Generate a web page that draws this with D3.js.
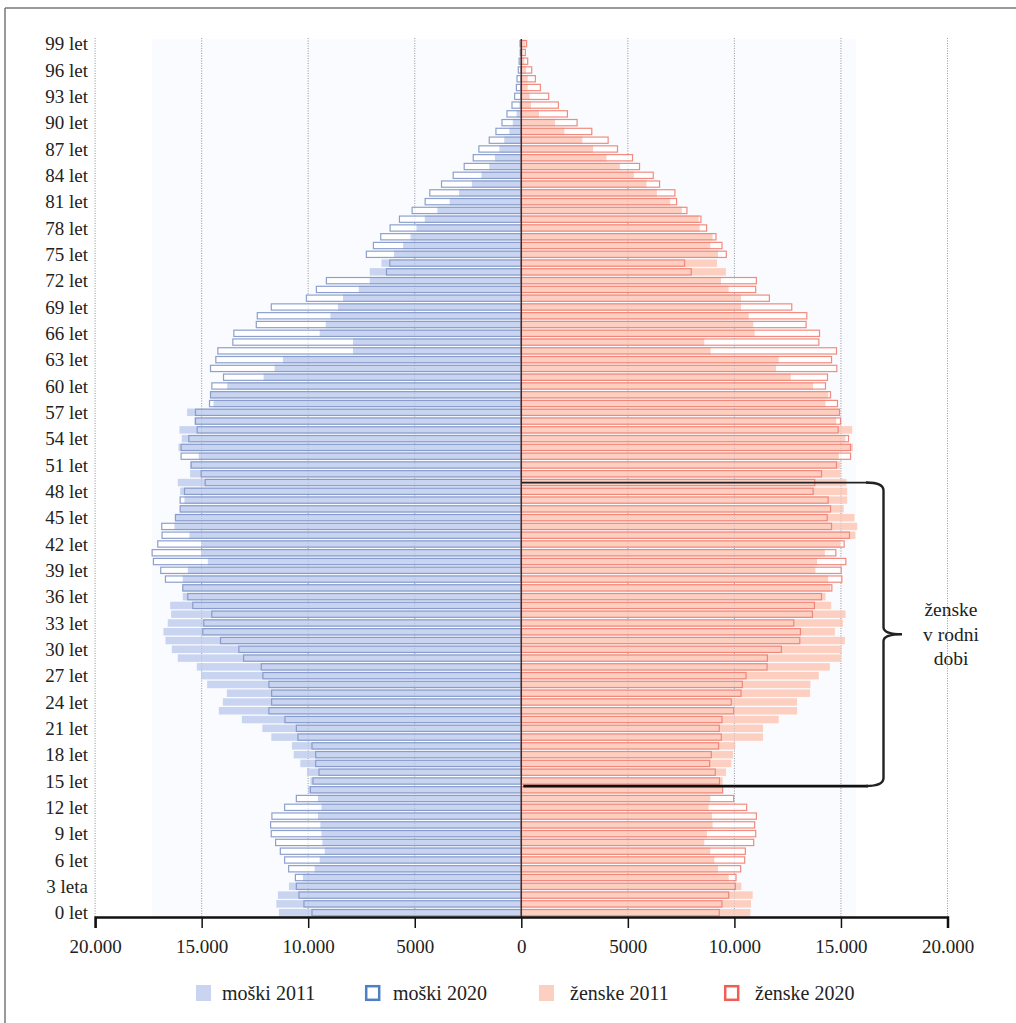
<!DOCTYPE html>
<html><head><meta charset="utf-8">
<script src="https://cdn.jsdelivr.net/npm/d3@7"></script>
<style>
html,body{margin:0;padding:0;background:#fff;}
svg{display:block;}
text{font-family:"Liberation Serif","DejaVu Serif",serif;fill:#222;}
</style></head><body>
<svg id="c" width="1016" height="1023"></svg>
<script>
// ages 0..99
const ages = d3.range(0, 100);
const male2011 = [11374,11496,11421,10904,10250,9696,9461,9226,9334,9381,9428,9541,9381,9541,10000,9898,10058,10368,10683,10763,11731,12154,13113,14194,14006,13818,14742,15023,15228,16121,16403,16699,16793,16591,16431,16478,15886,15900,15886,15651,14711,15023,15023,15571,16276,16230,16010,15806,16010,16121,15540,15540,15134,16088,15933,16041,15340,15680,14443,14584,13800,12093,11576,11186,7896,7896,9461,9179,8958,8601,8366,7628,7111,7111,6561,5970,5545,5200,4920,4530,3940,3360,2920,2320,1870,1500,1240,1030,800,560,400,220,90,60,50,40,30,20,15,10];
const male2020 = [9823,10199,10434,10556,10600,10918,11106,11308,11529,11733,11764,11703,11106,10556,9898,9776,9494,9649,9649,9823,10481,10556,11092,11844,11717,11717,11844,12126,12201,13033,13254,14114,14946,14899,14523,15416,15651,15886,16699,16920,17263,17324,17061,16857,16873,16230,16010,16010,15806,14833,15023,15493,15963,15963,15604,15210,15289,15289,14631,14584,14523,13973,14584,14335,14241,13536,13489,12436,12389,11731,10086,9616,9146,6326,6171,7270,6940,6596,6157,5718,5123,4512,4293,3744,3196,2679,2256,1990,1504,1190,907,672,437,311,230,200,140,100,50,60];
const female2011 = [10749,10780,10858,10326,9730,9229,9057,8869,8587,8712,8978,8947,8790,8869,9450,9450,9604,9854,9934,10044,11345,11345,12080,12940,12940,13552,13568,13960,14479,14996,15027,15184,14714,15090,15215,14541,14275,14510,14400,13800,13880,14244,14980,15680,15762,15637,15130,15290,15290,15260,14980,14980,14900,15560,15215,15527,14777,14933,14275,14400,13694,12645,11955,12080,8885,8587,10951,10890,10670,10310,10310,9729,9372,9600,9184,9229,8868,8978,8367,8320,7537,6989,6362,5876,5281,4623,3997,3370,2868,2022,1584,830,455,390,300,300,220,140,100,200];
const female2020 = [9291,9417,9730,10044,10075,10294,10483,10514,10906,11000,10951,11031,10575,9964,9448,9300,9103,8837,8915,9260,9385,9291,9417,9964,9854,10310,10373,10545,11533,11548,12205,13067,13098,12785,13662,13756,14087,14573,15042,15011,15230,14760,15150,15400,14557,14353,14510,14400,13694,13772,14087,14792,15450,15450,15356,14870,14980,14933,14839,14510,14275,14369,14807,14557,14792,13962,13993,13366,13397,12692,11642,11000,11031,7976,7662,9620,9417,9135,8696,8430,7772,7286,7208,6488,6190,5548,5219,4514,4075,3307,2618,2164,1740,1286,895,660,487,300,190,250];
const xTicks = [-20000,-15000,-10000,-5000,0,5000,10000,15000,20000];
const xTickLabels = ["20.000","15.000","10.000","5000","0","5000","10.000","15.000","20.000"];
const ageLabelAges = d3.range(0, 100, 3);
const legendLabels = ["moški 2011","moški 2020","ženske 2011","ženske 2020"];
const bracketLabel = ["ženske","v rodni","dobi"];
const bracketAges = [15, 49];

const svg = d3.select("#c");
const x = d3.scaleLinear().domain([-20000, 20000]).range([95.1, 947.5]);
const y = d3.scaleBand().domain(ages.slice().reverse()).range([39.3, 917]).paddingInner(0.15).paddingOuter(0.07);

const C = {m11:"#c8d4f0", m20:"#8196c8", f11:"#fdcfc1", f20:"#ef7e72", grid:"#a8a8a8"};

// outer frame
svg.append("line").attr("x1",5).attr("x2",5).attr("y1",8).attr("y2",1023).attr("stroke","#777").attr("stroke-width",1.5);
svg.append("line").attr("x1",5).attr("x2",1016).attr("y1",8).attr("y2",8).attr("stroke","#777").attr("stroke-width",1.5);

// panel bg
svg.append("rect").attr("x",152).attr("y",39).attr("width",704).attr("height",878).attr("fill","#f9fbfe");

// grid
svg.append("g").selectAll("line").data(xTicks.filter(d=>d!==0)).enter().append("line")
  .attr("x1",d=>x(d)).attr("x2",d=>x(d)).attr("y1",38).attr("y2",917)
  .attr("stroke",C.grid).attr("stroke-width",1).attr("stroke-dasharray","1,1.5");

const bh = y.bandwidth();
const bars = svg.append("g");
// white interiors of 2020
bars.selectAll(null).data(ages).enter().append("rect")
  .attr("x",d=>x(-male2020[d])).attr("y",d=>y(d)).attr("width",d=>x(0)-x(-male2020[d])).attr("height",bh).attr("fill","#fff");
bars.selectAll(null).data(ages).enter().append("rect")
  .attr("x",x(0)).attr("y",d=>y(d)).attr("width",d=>x(female2020[d])-x(0)).attr("height",bh).attr("fill","#fff");
// 2011 fills
bars.selectAll(null).data(ages).enter().append("rect")
  .attr("x",d=>x(-male2011[d])).attr("y",d=>y(d)).attr("width",d=>x(0)-x(-male2011[d])).attr("height",bh).attr("fill",C.m11);
bars.selectAll(null).data(ages).enter().append("rect")
  .attr("x",x(0)).attr("y",d=>y(d)).attr("width",d=>x(female2011[d])-x(0)).attr("height",bh).attr("fill",C.f11);
// 2020 outlines
bars.selectAll(null).data(ages).enter().append("rect")
  .attr("x",d=>x(-male2020[d])).attr("y",d=>y(d)+0.6).attr("width",d=>x(0)-x(-male2020[d])).attr("height",bh-1.2)
  .attr("fill","none").attr("stroke",C.m20).attr("stroke-width",1.2).attr("stroke-opacity",0.9);
bars.selectAll(null).data(ages).enter().append("rect")
  .attr("x",x(0)).attr("y",d=>y(d)+0.6).attr("width",d=>x(female2020[d])-x(0)).attr("height",bh-1.2)
  .attr("fill","none").attr("stroke",C.f20).attr("stroke-width",1.2).attr("stroke-opacity",0.9);

// grid over bars (faint)
svg.append("g").selectAll("line").data(xTicks.filter(d=>d!==0)).enter().append("line")
  .attr("x1",d=>x(d)).attr("x2",d=>x(d)).attr("y1",38).attr("y2",917)
  .attr("stroke","#8090b0").attr("stroke-width",1).attr("stroke-dasharray","1,1.5").attr("opacity",0.3);

// zero line
svg.append("line").attr("x1",x(0)).attr("x2",x(0)).attr("y1",39).attr("y2",917).attr("stroke","#333").attr("stroke-width",1.5);

// x axis
const axisG = svg.append("g").attr("transform","translate(0,917)");
axisG.call(d3.axisBottom(x).tickValues(xTicks).tickFormat((d,i)=>xTickLabels[i]).tickSize(11).tickPadding(12));
axisG.select(".domain").attr("stroke","#111").attr("stroke-width",2.5);
axisG.selectAll(".tick line").attr("stroke","#111").attr("stroke-width",1.5);
axisG.selectAll(".tick text").attr("font-family","Liberation Serif, serif").attr("font-size",19).attr("fill","#222");

// age labels
svg.append("g").selectAll("text").data(ageLabelAges).enter().append("text")
  .attr("x",88).attr("y",d=>y(d)+bh/2).attr("dy","0.35em").attr("text-anchor","end").attr("font-size",19)
  .text(d=> d===3 ? "3 leta" : d+" let");

// bracket
const yTop = y(bracketAges[1]) + bh/2;
const yBot = y(bracketAges[0]) + y.step();
const bx = 883.5, tip = 902;
const ym = (yTop+yBot)/2;
svg.append("line").attr("x1",x(0)).attr("x2",868).attr("y1",yTop).attr("y2",yTop).attr("stroke","#222").attr("stroke-width",1.8);
svg.append("line").attr("x1",x(0)+2).attr("x2",868).attr("y1",yBot).attr("y2",yBot).attr("stroke","#111").attr("stroke-width",2.8);
svg.append("path")
  .attr("d",`M866,${yTop} Q${bx},${yTop} ${bx},${yTop+8} L${bx},${ym-7} Q${bx},${ym} ${tip},${ym} Q${bx},${ym} ${bx},${ym+7} L${bx},${yBot-8} Q${bx},${yBot} 866,${yBot}`)
  .attr("fill","none").attr("stroke","#222").attr("stroke-width",2.4);
svg.append("g").selectAll("text").data(bracketLabel).enter().append("text")
  .attr("x",951).attr("y",(d,i)=>616+i*24.5).attr("text-anchor","middle").attr("font-size",19.5).text(d=>d);

// legend
const lg = svg.append("g");
const lx = [196,365,539,724];
const tx = [222,393,570,755];
const ly = 993;
legendLabels.forEach((t,i)=>{
  if(i%2===0){
    lg.append("rect").attr("x",lx[i]).attr("y",ly-8).attr("width",15).attr("height",16).attr("fill", i===0?C.m11:C.f11);
  } else {
    lg.append("rect").attr("x",lx[i]+1.2).attr("y",ly-6.8).attr("width",13).attr("height",13.6).attr("fill","#fff")
      .attr("stroke", i===1?"#4f7fc4":"#ef5f55").attr("stroke-width",2.5);
  }
  lg.append("text").attr("x",tx[i]).attr("y",ly).attr("dy","0.35em").attr("font-size",20).text(t);
});
</script></body></html>
